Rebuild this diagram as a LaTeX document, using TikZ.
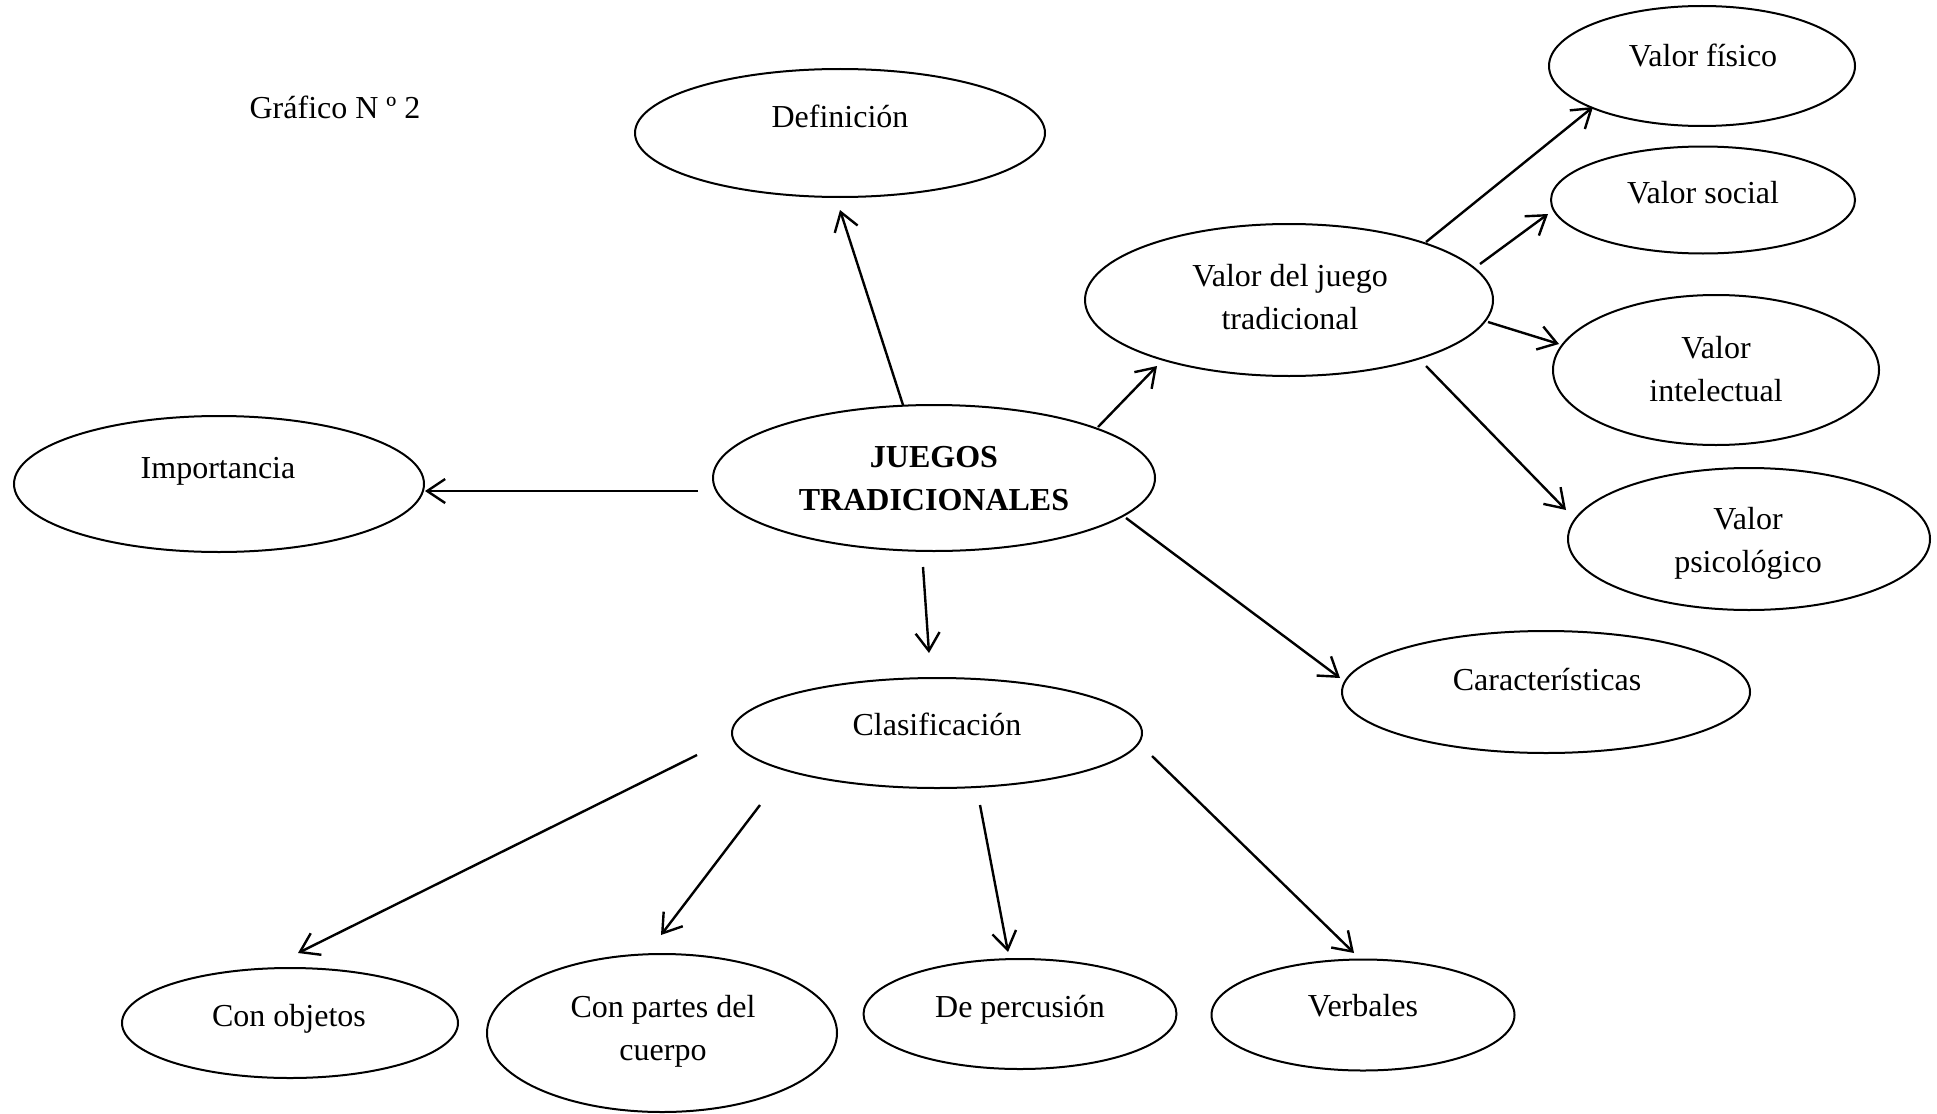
\documentclass[tikz,border=0pt]{standalone}
\usepackage{fontspec}
\setmainfont{Liberation Serif}
\usetikzlibrary{arrows.meta,shapes.geometric,calc}
\begin{document}
\begin{tikzpicture}[x=1pt,y=-1pt,
  oval/.style={ellipse, draw, line width=2pt, inner sep=0pt, outer sep=0pt},
  lbl/.style={font=\fontsize{32}{42.5}\selectfont, align=center, anchor=base, inner sep=0pt},
  arr/.style={line width=2.4pt, -{Straight Barb[length=18pt,width=24pt,line width=2.4pt]}}]
\useasboundingbox (0,0) rectangle (1937,1113);
% ellipses
\node[oval, minimum width=410pt, minimum height=128pt] (def) at (840,133) {};
\node[oval, minimum width=410pt, minimum height=136pt] (imp) at (219,484) {};
\node[oval, minimum width=442pt, minimum height=146pt] (jt)  at (934,478) {};
\node[oval, minimum width=408pt, minimum height=152pt] (vj)  at (1289,300) {};
\node[oval, minimum width=306pt, minimum height=120pt] (vf)  at (1702,66) {};
\node[oval, minimum width=304pt, minimum height=107pt] (vs)  at (1703,200) {};
\node[oval, minimum width=326pt, minimum height=150pt] (vi)  at (1716,370) {};
\node[oval, minimum width=362pt, minimum height=142pt] (vp)  at (1749,539) {};
\node[oval, minimum width=408pt, minimum height=122pt] (car) at (1546,692) {};
\node[oval, minimum width=410pt, minimum height=110pt] (cla) at (937,733) {};
\node[oval, minimum width=336pt, minimum height=110pt] (co)  at (290,1023) {};
\node[oval, minimum width=350pt, minimum height=158pt] (cp)  at (662,1033) {};
\node[oval, minimum width=313pt, minimum height=110pt] (dp)  at (1020,1014) {};
\node[oval, minimum width=303pt, minimum height=111pt] (vb)  at (1363,1015) {};
% texts
\node[lbl] (tg)   at (335,118)  {Gráfico N º 2};
\node[lbl] (tdef) at (840,128)  {Definición};
\node[lbl] (timp) at (218,478)  {Importancia};
\node[lbl, font=\fontsize{32}{42.5}\selectfont\bfseries] (tjt) at (934,510) {JUEGOS\\TRADICIONALES};
\node[lbl] (tvj)  at (1290,329) {Valor del juego\\tradicional};
\node[lbl] (tvf)  at (1703,67)  {Valor físico};
\node[lbl] (tvs)  at (1703,203) {Valor social};
\node[lbl] (tvi)  at (1716,401) {Valor\\intelectual};
\node[lbl] (tvp)  at (1748,572) {Valor\\psicológico};
\node[lbl] (tcar) at (1547,690) {Características};
\node[lbl] (tcla) at (937,735)  {Clasificación};
\node[lbl] (tco)  at (289,1026) {Con objetos};
\node[lbl] (tcp)  at (663,1060) {Con partes del\\cuerpo};
\node[lbl] (tdp)  at (1020,1017) {De percusión};
\node[lbl] (tvb)  at (1363,1016) {Verbales};
% arrows
\draw[arr] ($(jt)+(-31,-73)$) -- ($(def)+(0,77)$);
\draw[arr] ($(jt)+(-236,13)$) -- ($(imp)+(206,7)$);
\draw[arr] ($(jt)+(164,-51)$) -- ($(vj)+(-132,66)$);
\draw[arr] ($(vj)+(137,-58)$) -- ($(vf)+(-109,41)$);
\draw[arr] ($(vj)+(191,-36)$) -- ($(vs)+(-155,14)$);
\draw[arr] ($(vj)+(199,22)$) -- ($(vi)+(-157,-26)$);
\draw[arr] ($(vj)+(137,66)$) -- ($(vp)+(-183,-29)$);
\draw[arr] ($(jt)+(192,40)$) -- ($(car)+(-206,-14)$);
\draw[arr] ($(jt)+(-11,89)$) -- ($(cla)+(-8,-80)$);
\draw[arr] ($(cla)+(-240,22)$) -- ($(co)+(8,-70)$);
\draw[arr] ($(cla)+(-177,72)$) -- ($(cp)+(-1,-98)$);
\draw[arr] ($(cla)+(43,72)$) -- ($(dp)+(-12,-62)$);
\draw[arr] ($(cla)+(215,23)$) -- ($(vb)+(-9,-62)$);
\end{tikzpicture}
\end{document}
